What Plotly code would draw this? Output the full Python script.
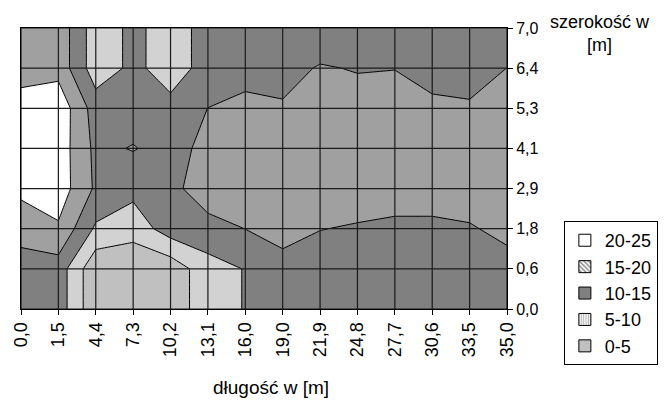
import plotly.graph_objects as go

# ---- data -------------------------------------------------------------
x_labels = ["0,0", "1,5", "4,4", "7,3", "10,2", "13,1", "16,0", "19,0",
            "21,9", "24,8", "27,7", "30,6", "33,5", "35,0"]
y_labels = ["0,0", "0,6", "1,8", "2,9", "4,1", "5,3", "6,4", "7,0"]

# one row of values per width category (bottom 0,0 -> top 7,0)
z_w00 = [12.5, 12.7, 1.1, 1.1, 1.8, 8.1, 10.2, 12.0, 12.0, 12.0, 12.0, 12.0, 12.0, 12.0]
z_w06 = [12.5, 12.7, 1.1, 1.1, 1.8, 8.1, 10.2, 14.8, 13.0, 13.0, 13.0, 13.0, 13.0, 13.6]
z_w18 = [17.2, 19.3, 9.2, 7.0, 12.5, 13.1, 15.05, 15.2, 15.1, 14.65, 14.1, 14.1, 14.65, 16.0]
z_w29 = [21.1, 22.8, 14.2, 11.5, 13.5, 18.0, 17.0, 17.0, 17.0, 17.0, 17.0, 17.0, 17.0, 17.0]
z_w41 = [22.0, 22.8, 13.8, 15.3, 13.0, 16.5, 17.5, 17.5, 17.5, 17.5, 17.5, 17.5, 17.5, 17.5]
z_w53 = [22.0, 23.5, 12.6, 12.5, 11.3, 15.05, 16.5, 15.5, 17.0, 17.0, 17.0, 16.0, 15.8, 17.0]
z_w64 = [18.1, 18.3, 7.2, 11.1, 7.9, 11.65, 12.9, 13.3, 15.4, 14.7, 14.9, 13.2, 12.2, 15.05]
z_w70 = [17.5, 18.3, 7.2, 11.1, 7.9, 11.65, 12.5, 12.0, 11.5, 12.0, 12.0, 12.0, 12.0, 12.0]

band_names = ["20-25", "15-20", "10-15", "5-10", "0-5"]

# ---- styles -----------------------------------------------------------
FONT = "Liberation Sans, Arial, sans-serif"
c_0_5 = "#c0c0c0"
c_5_10 = "#d2d2d2"
c_10_15 = "#808080"
c_15_20 = "#a0a0a0"
c_20_25 = "#ffffff"

z = [z_w00, z_w06, z_w18, z_w29, z_w41, z_w53, z_w64, z_w70]

colorscale = [
    [0.0, c_0_5], [0.125, c_0_5],
    [0.125, c_5_10], [0.375, c_5_10],
    [0.375, c_10_15], [0.625, c_10_15],
    [0.625, c_15_20], [0.875, c_15_20],
    [0.875, c_20_25], [1.0, c_20_25],
]

fig = go.Figure()
fig.add_trace(go.Contour(
    x=x_labels, y=y_labels, z=z,
    contours=dict(start=5, end=20, size=5, coloring="fill"),
    colorscale=colorscale, showscale=False,
    line=dict(color="black", width=1, smoothing=0),
    hoverinfo="skip", showlegend=False,
))

legend_styles = {
    "20-25": dict(color="white", pattern=None),
    "15-20": dict(color="white", pattern=dict(shape="\\", fgcolor="black", bgcolor="white", size=4, solidity=0.45)),
    "10-15": dict(color=c_10_15, pattern=None),
    "5-10": dict(color="white", pattern=dict(shape="|", fgcolor="#707070", bgcolor="white", size=3, solidity=0.5)),
    "0-5": dict(color=c_0_5, pattern=None),
}
for i, name in enumerate(band_names):
    st = legend_styles[name]
    marker = dict(color=st["color"], line=dict(color="black", width=1))
    if st["pattern"]:
        marker["pattern"] = st["pattern"]
    fig.add_trace(go.Bar(x=[None], y=[None], name=name, marker=marker,
                         legendgroup="g%d" % i, showlegend=True))

# category grid lines drawn above the filled contours
shapes = []
nx, ny = len(x_labels), len(y_labels)
for ix in range(nx):
    shapes.append(dict(type="line", xref="x", yref="y", x0=ix, x1=ix,
                       y0=0, y1=ny - 1, layer="above",
                       line=dict(color="#1a1a1a", width=1.2)))
for iy in range(ny):
    shapes.append(dict(type="line", xref="x", yref="y", x0=0, x1=nx - 1,
                       y0=iy, y1=iy, layer="above",
                       line=dict(color="#1a1a1a", width=1.2)))

# the page body adds an 8px offset, so the figure is 8px smaller each way
fig.update_layout(
    width=659, height=392,
    margin=dict(l=13, r=160, t=20, b=91, autoexpand=False),
    paper_bgcolor="white", plot_bgcolor="white",
    font=dict(family=FONT, size=17, color="black"),
    shapes=shapes,
    showlegend=True,
    legend=dict(x=1.117, y=0.313, xanchor="left", yanchor="top",
                bordercolor="black", borderwidth=1, bgcolor="white",
                font=dict(size=18), tracegroupgap=2.5, traceorder="normal"),
    xaxis=dict(type="category", range=[0, nx - 1], showgrid=False,
               showline=True, linecolor="black", linewidth=1, mirror=True,
               ticks="outside", ticklen=5, tickcolor="black", tickangle=-90,
               tickfont=dict(size=18), zeroline=False, fixedrange=True, automargin=False),
    yaxis=dict(type="category", range=[0, ny - 1], showgrid=False, side="right",
               showline=True, linecolor="black", linewidth=1, mirror=True,
               ticks="outside", ticklen=5, tickcolor="black",
               tickfont=dict(size=16), zeroline=False, fixedrange=True, automargin=False),
    annotations=[
        dict(text="szerokość w<br>[m]", xref="paper", yref="paper",
             x=1.1914, y=0.982, xanchor="center", yanchor="middle",
             showarrow=False, font=dict(size=18)),
        dict(text="długość w [m]", xref="paper", yref="paper",
             x=0.514, y=-0.2776, xanchor="center", yanchor="middle",
             showarrow=False, font=dict(size=19)),
    ],
)

fig.write_html("out.html")
